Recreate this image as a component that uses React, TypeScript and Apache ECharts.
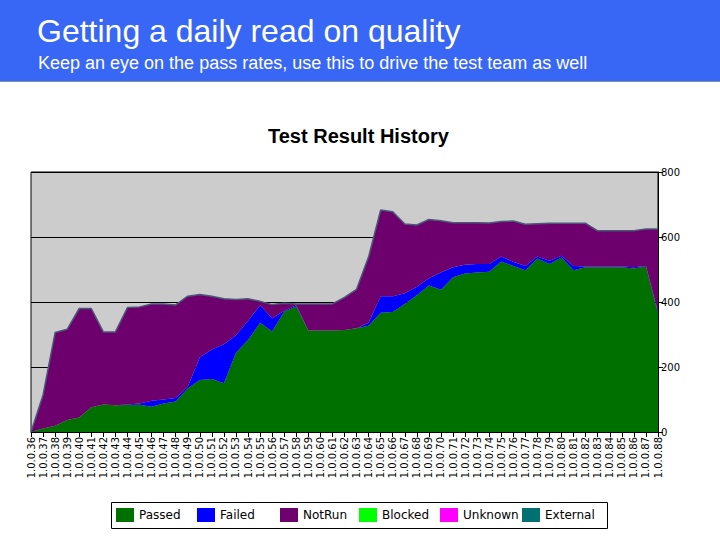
import React, { useEffect, useRef } from "react";
import * as echarts from "echarts";

const categories = [
  "1.0.0.36","1.0.0.37","1.0.0.38","1.0.0.39","1.0.0.40","1.0.0.41","1.0.0.42","1.0.0.43","1.0.0.44","1.0.0.45",
  "1.0.0.46","1.0.0.47","1.0.0.48","1.0.0.49","1.0.0.50","1.0.0.51","1.0.0.52","1.0.0.53","1.0.0.54","1.0.0.55",
  "1.0.0.56","1.0.0.57","1.0.0.58","1.0.0.59","1.0.0.60","1.0.0.61","1.0.0.62","1.0.0.63","1.0.0.64","1.0.0.65",
  "1.0.0.66","1.0.0.67","1.0.0.68","1.0.0.69","1.0.0.70","1.0.0.71","1.0.0.72","1.0.0.73","1.0.0.74","1.0.0.75",
  "1.0.0.76","1.0.0.77","1.0.0.78","1.0.0.79","1.0.0.80","1.0.0.81","1.0.0.82","1.0.0.83","1.0.0.84","1.0.0.85",
  "1.0.0.86","1.0.0.87","1.0.0.88",
];

const passed = [
  0, 11, 19, 37, 45, 76, 85, 82, 83, 84, 78, 88, 94, 134, 160, 163, 150, 244, 283, 336,
  309, 370, 386, 312, 312, 312, 314, 319, 327, 367, 369, 394, 421, 451, 438, 476, 488, 491, 493, 525,
  511, 498, 534, 517, 537, 498, 507, 507, 507, 507, 503, 509, 365,
];
const failed = [
  0, 0, 0, 0, 0, 0, 0, 0, 2, 4, 18, 12, 11, 5, 70, 91, 120, 54, 59, 54,
  41, 3, 4, 0, 0, 0, 0, 0, 9, 51, 49, 33, 26, 22, 53, 31, 27, 26, 24, 15,
  13, 13, 6, 10, 5, 13, 2, 2, 2, 2, 4, 2, 5,
];
const notRun = [
  0, 103, 287, 279, 335, 304, 223, 226, 298, 297, 298, 294, 286, 279, 193, 164, 140, 110, 68, 12,
  42, 23, 4, 82, 82, 82, 100, 120, 203, 265, 260, 213, 190, 181, 159, 137, 129, 127, 126, 108,
  125, 128, 101, 115, 100, 131, 133, 110, 110, 110, 112, 114, 255,
];
const blocked = [
  0,0,0,0,0,0,0,0,0,0,0,0,0,0,0,0,0,0,0,0,0,0,0,0,0,0,0,0,0,0,0,0,0,0,0,0,0,0,0,0,0,0,0,0,0,0,0,0,0,0,0,0,0,
];
const unknown = [
  0,0,0,0,0,0,0,0,0,0,0,0,0,0,0,0,0,0,0,0,0,0,0,0,0,0,0,0,0,0,0,0,0,0,0,0,0,0,0,0,0,0,0,0,0,0,0,0,0,0,0,0,0,
];
const external = [
  0,0,0,0,0,0,0,0,0,0,0,0,0,0,0,0,0,0,0,0,0,0,0,0,0,0,0,0,0,0,0,0,0,0,0,0,0,0,0,0,0,0,0,0,0,0,0,0,0,0,0,0,0,
];

const seriesNames = ["Passed", "Failed", "NotRun", "Blocked", "Unknown", "External"];
const seriesColors = ["#007000", "#0000ff", "#6e006e", "#00ff00", "#ff00ff", "#007070"];
const seriesData = [passed, failed, notRun, blocked, unknown, external];
const legendLefts = [116, 197, 280, 359, 440, 522];

const yTicks = [0, 200, 400, 600, 800];

export default function App() {
  const ref = useRef<HTMLDivElement>(null);
  useEffect(() => {
    if (!ref.current) return;
    const chart = echarts.init(ref.current, null, { renderer: "svg" });
    const font = "Liberation Sans, Arial, sans-serif";
    const smallFont = "DejaVu Sans, sans-serif";
    chart.setOption({
      animation: false,
      backgroundColor: "#ffffff",
      textStyle: { fontFamily: font },
      graphic: [
        { type: "rect", left: 0, top: 0, shape: { width: 720, height: 82 }, style: { fill: "#3867f5" }, z: -10 },
        { type: "rect", left: 0, top: 81, shape: { width: 720, height: 1 }, style: { fill: "#7f8fb0" }, z: -9 },
        {
          type: "text", left: 37, top: 15,
          style: { text: "Getting a daily read on quality", fill: "#ffffff", font: "32px " + font },
        },
        {
          type: "text", left: 38, top: 54,
          style: { text: "Keep an eye on the pass rates, use this to drive the test team as well", fill: "#ffffff", font: "18px " + font },
        },
        {
          type: "rect",
          shape: { x: 111.5, y: 502.5, width: 496, height: 26 },
          style: { fill: "none", stroke: "#000", lineWidth: 1 },
        },
      ],
      title: {
        text: "Test Result History",
        left: 268,
        top: 126,
        padding: 0,
        textStyle: { fontSize: 20, fontWeight: "bold", color: "#000", fontFamily: font },
      },
      legend: seriesNames.map((n, i) => ({
        left: legendLefts[i],
        top: 508,
        data: [n],
        icon: "rect",
        itemWidth: 18,
        itemHeight: 14,
        padding: 0,
        textStyle: { fontSize: 12, color: "#000", fontFamily: smallFont },
      })),
      grid: {
        left: 31,
        right: 62,
        top: 172,
        bottom: 108,
        show: true,
        backgroundColor: "#cccccc",
        borderColor: "#000",
        borderWidth: 1,
      },
      xAxis: {
        type: "category",
        data: categories,
        boundaryGap: false,
        axisLine: { lineStyle: { color: "#000" } },
        axisTick: { show: true, interval: 0, length: 5, lineStyle: { color: "#000" } },
        axisLabel: { interval: 0, rotate: 90, fontSize: 10, color: "#000", margin: 5, fontFamily: smallFont },
        splitLine: { show: false },
      },
      yAxis: {
        type: "value",
        position: "right",
        min: 0,
        max: 800,
        interval: 200,
        axisLine: { show: true, lineStyle: { color: "#000" } },
        axisTick: { show: true, length: 5, lineStyle: { color: "#000" } },
        axisLabel: {
          fontSize: 10, color: "#000", margin: 3, fontFamily: smallFont,
          formatter: (v: number) => (yTicks.indexOf(v) >= 0 ? String(v) : ""),
        },
        splitLine: { show: true, lineStyle: { color: "#000", width: 1 } },
      },
      series: seriesNames.map((name, i) => ({
        name,
        type: "line",
        stack: "total",
        data: seriesData[i],
        showSymbol: false,
        symbol: "none",
        itemStyle: { color: seriesColors[i] },
        lineStyle: name === "External" ? { color: "#4a5878", width: 1.5 } : { width: 0, color: seriesColors[i] },
        areaStyle: { color: seriesColors[i], opacity: 1 },
        z: 2,
      })),
    });
    return () => chart.dispose();
  }, []);
  return <div ref={ref} style={{ position: "fixed", left: 0, top: 0, width: 720, height: 540 }} />;
}
